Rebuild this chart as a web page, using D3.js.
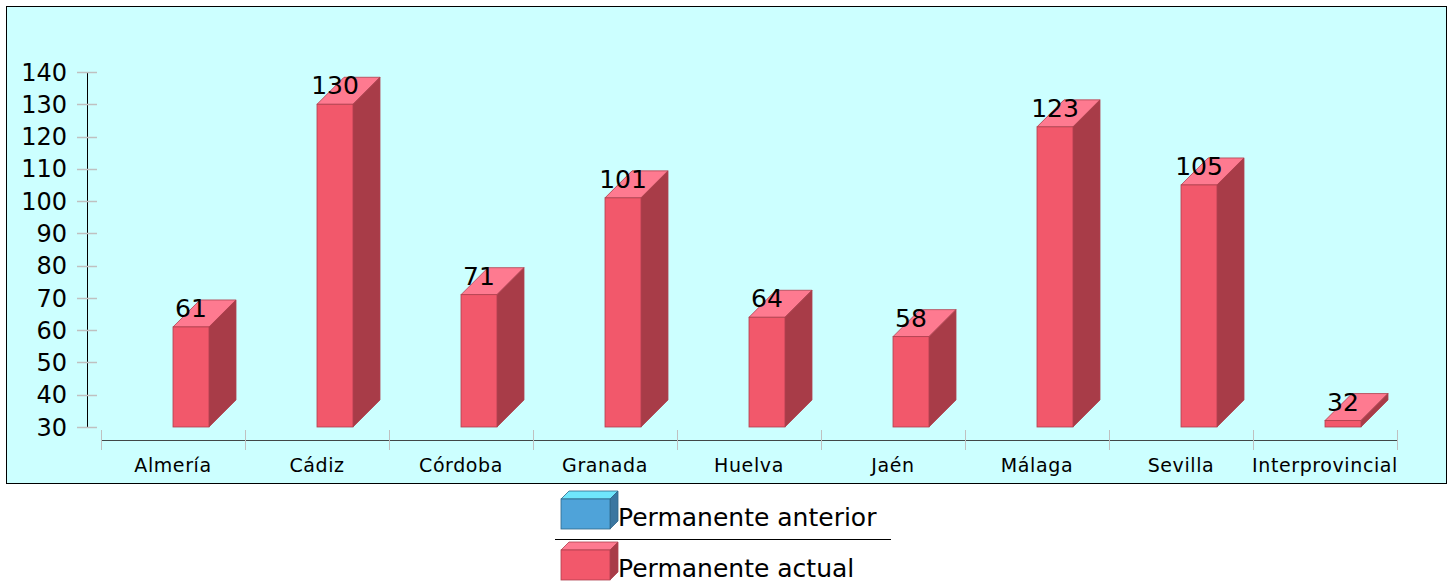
<!DOCTYPE html>
<html>
  <head>
    <meta charset="utf-8" />
    <style>
      body {
        margin: 0;
        background: #fff;
      }
      svg text {
        font-family: 'DejaVu Sans', sans-serif;
        fill: #000;
      }
    </style>
  </head>
  <body>
    <div class="chart"></div>
    <script src="https://d3js.org/d3.v7.min.js"></script>
    <script>
      const categories = ['Almería', 'Cádiz', 'Córdoba', 'Granada', 'Huelva', 'Jaén', 'Málaga', 'Sevilla', 'Interprovincial'];
      const seriesNames = ['Permanente anterior', 'Permanente actual'];
      const anterior = [null, null, null, null, null, null, null, null, null];
      const actual = [61, 130, 71, 101, 64, 58, 123, 105, 32];
      const yTicks = [30, 40, 50, 60, 70, 80, 90, 100, 110, 120, 130, 140];

      const width = 1452;
      const height = 584;
      const depth = 27;
      const barW = 36;
      const colors = [
        { front: '#4fa3d9', top: '#6fe6fc', side: '#3a76a0', stroke: '#2f6689' },
        { front: '#f2586b', top: '#fe7a90', side: '#a83c48', stroke: '#b0404e' },
      ];

      const svg = d3
        .select('.chart')
        .append('svg')
        .attr('width', width)
        .attr('height', height);

      // panel
      svg
        .append('rect')
        .attr('x', 6.5)
        .attr('y', 6.5)
        .attr('width', 1440)
        .attr('height', 477)
        .attr('fill', '#ccffff')
        .attr('stroke', '#000');

      const y = d3.scaleLinear().domain([30, 140]).range([427, 72]);
      const x = d3.scaleBand().domain(categories).range([101, 1397]);
      const xs = d3.scaleBand().domain(seriesNames).range([x.bandwidth() / 2 - barW, x.bandwidth() / 2 + barW]);

      // y axis
      const yAxis = svg.append('g');
      yAxis
        .append('line')
        .attr('x1', 87.5)
        .attr('x2', 87.5)
        .attr('y1', y(30))
        .attr('y2', y(140))
        .attr('stroke', '#000');
      yAxis
        .selectAll('.tick')
        .data(yTicks)
        .enter()
        .append('line')
        .attr('x1', 77)
        .attr('x2', 97)
        .attr('y1', (d) => Math.round(y(d)) + 0.5)
        .attr('y2', (d) => Math.round(y(d)) + 0.5)
        .attr('stroke', '#c0c0c0')
        .attr('stroke-width', 1.5);
      yAxis
        .selectAll('text')
        .data(yTicks)
        .enter()
        .append('text')
        .attr('x', 67)
        .attr('y', (d) => y(d))
        .attr('dy', '0.36em')
        .attr('text-anchor', 'end')
        .style('font-size', '24px')
        .text((d) => d);

      // x axis
      const xAxis = svg.append('g');
      xAxis
        .append('line')
        .attr('x1', 101)
        .attr('x2', 1397)
        .attr('y1', 440.5)
        .attr('y2', 440.5)
        .attr('stroke', '#404848');
      const edges = categories.map((c) => x(c)).concat([x.range()[1]]);
      xAxis
        .selectAll('.tick')
        .data(edges)
        .enter()
        .append('line')
        .attr('x1', (d) => d + 0.5)
        .attr('x2', (d) => d + 0.5)
        .attr('y1', 430)
        .attr('y2', 450)
        .attr('stroke', '#c0c0c0');
      xAxis
        .selectAll('text')
        .data(categories)
        .enter()
        .append('text')
        .attr('x', (d) => x(d) + x.bandwidth() / 2)
        .attr('y', 472)
        .attr('text-anchor', 'middle')
        .style('font-size', '19px')
        .style('letter-spacing', '0.6px')
        .text((d) => d);

      // 3D bars
      function bar3d(g, x0, y0, w, h, d, c) {
        g.append('polygon')
          .attr('points', [[x0, y0], [x0 + d, y0 - d], [x0 + w + d, y0 - d], [x0 + w, y0]].join(' '))
          .attr('fill', c.top)
          .attr('stroke', c.stroke)
          .attr('stroke-width', 0.8);
        g.append('polygon')
          .attr('points', [[x0 + w, y0], [x0 + w + d, y0 - d], [x0 + w + d, y0 + h - d], [x0 + w, y0 + h]].join(' '))
          .attr('fill', c.side)
          .attr('stroke', c.stroke)
          .attr('stroke-width', 0.8);
        g.append('rect')
          .attr('x', x0)
          .attr('y', y0)
          .attr('width', w)
          .attr('height', h)
          .attr('fill', c.front)
          .attr('stroke', c.stroke)
          .attr('stroke-width', 0.8);
      }

      const series = [anterior, actual];
      const bars = svg.append('g');
      series.forEach((vals, si) => {
        vals.forEach((v, i) => {
          if (v == null) return;
          const bx = x(categories[i]) + xs(seriesNames[si]);
          bar3d(bars, bx, y(v), barW, y(30) - y(v), depth, colors[si]);
        });
      });

      // value labels
      series.forEach((vals, si) => {
        vals.forEach((v, i) => {
          if (v == null) return;
          svg
            .append('text')
            .attr('x', x(categories[i]) + xs(seriesNames[si]) + barW / 2)
            .attr('y', y(v) - 10)
            .attr('text-anchor', 'middle')
            .style('font-size', '25px')
            .text(v);
        });
      });

      // legend
      const legend = svg.append('g');
      const legendY = [499, 550];
      seriesNames.forEach((name, i) => {
        bar3d(legend, 561, legendY[i], 49, 30, 8, colors[i]);
        legend
          .append('text')
          .attr('x', 618)
          .attr('y', legendY[i] + 27)
          .style('font-size', '25px')
          .text(name);
      });
      legend
        .append('line')
        .attr('x1', 555)
        .attr('x2', 891)
        .attr('y1', 539.5)
        .attr('y2', 539.5)
        .attr('stroke', '#000');
    </script>
  </body>
</html>
